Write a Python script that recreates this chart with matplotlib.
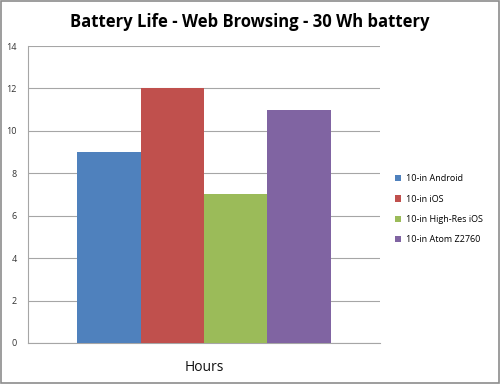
import matplotlib
matplotlib.use("Agg")
import matplotlib.pyplot as plt
from matplotlib.patches import Rectangle

# Data
devices = ["10-in Android", "10-in iOS", "10-in High-Res iOS", "10-in Atom Z2760"]
hours = [9, 12, 7, 11]
colors = ["#4F81BD", "#C0504D", "#9BBB59", "#8064A2"]
y_ticks = [0, 2, 4, 6, 8, 10, 12, 14]

plt.rcParams['font.family'] = ['Open Sans', 'DejaVu Sans']

fig = plt.figure(figsize=(5, 3.84), dpi=100)
ax = fig.add_axes([0.056, 0.107, 0.704, 0.773])

# four bars side by side in one category group
width = 0.18
offsets = [-1.5 * width, -0.5 * width, 0.5 * width, 1.5 * width]
for off, h, c, lab in zip(offsets, hours, colors, devices):
    ax.bar(off, h, width=width, color=c, label=lab, zorder=3)

ax.set_xlim(-0.5, 0.5)
ax.set_ylim(0, 14)
ax.set_yticks(y_ticks)
ax.set_yticklabels([str(t) for t in y_ticks], fontsize=6.5, color="#333333")
ax.set_xticks([])
ax.yaxis.grid(True, color="#a6a6a6", linewidth=0.8, zorder=0)
ax.tick_params(axis='y', length=0, pad=8)
for s in ["top", "right"]:
    ax.spines[s].set_visible(False)
ax.spines["left"].set_color("#a6a6a6")
ax.spines["bottom"].set_color("#a6a6a6")

ax.set_xlabel("Hours", fontsize=10, labelpad=12, color="#111111")
fig.suptitle("Battery Life - Web Browsing - 30 Wh battery", fontsize=12,
             fontweight="bold", y=0.965, x=0.5)

ax.legend(loc="center left", bbox_to_anchor=(1.02, 0.45), frameon=False,
          fontsize=6.5, handlelength=0.7, handleheight=0.7,
          labelspacing=1.25, handletextpad=0.5)

# thin gray border around the whole picture
fig.patches.append(Rectangle((0.002, 0.002), 0.996, 0.995, transform=fig.transFigure,
                             fill=False, edgecolor="#8c8c8c", linewidth=1.2))

fig.savefig("out.png", dpi=100)
